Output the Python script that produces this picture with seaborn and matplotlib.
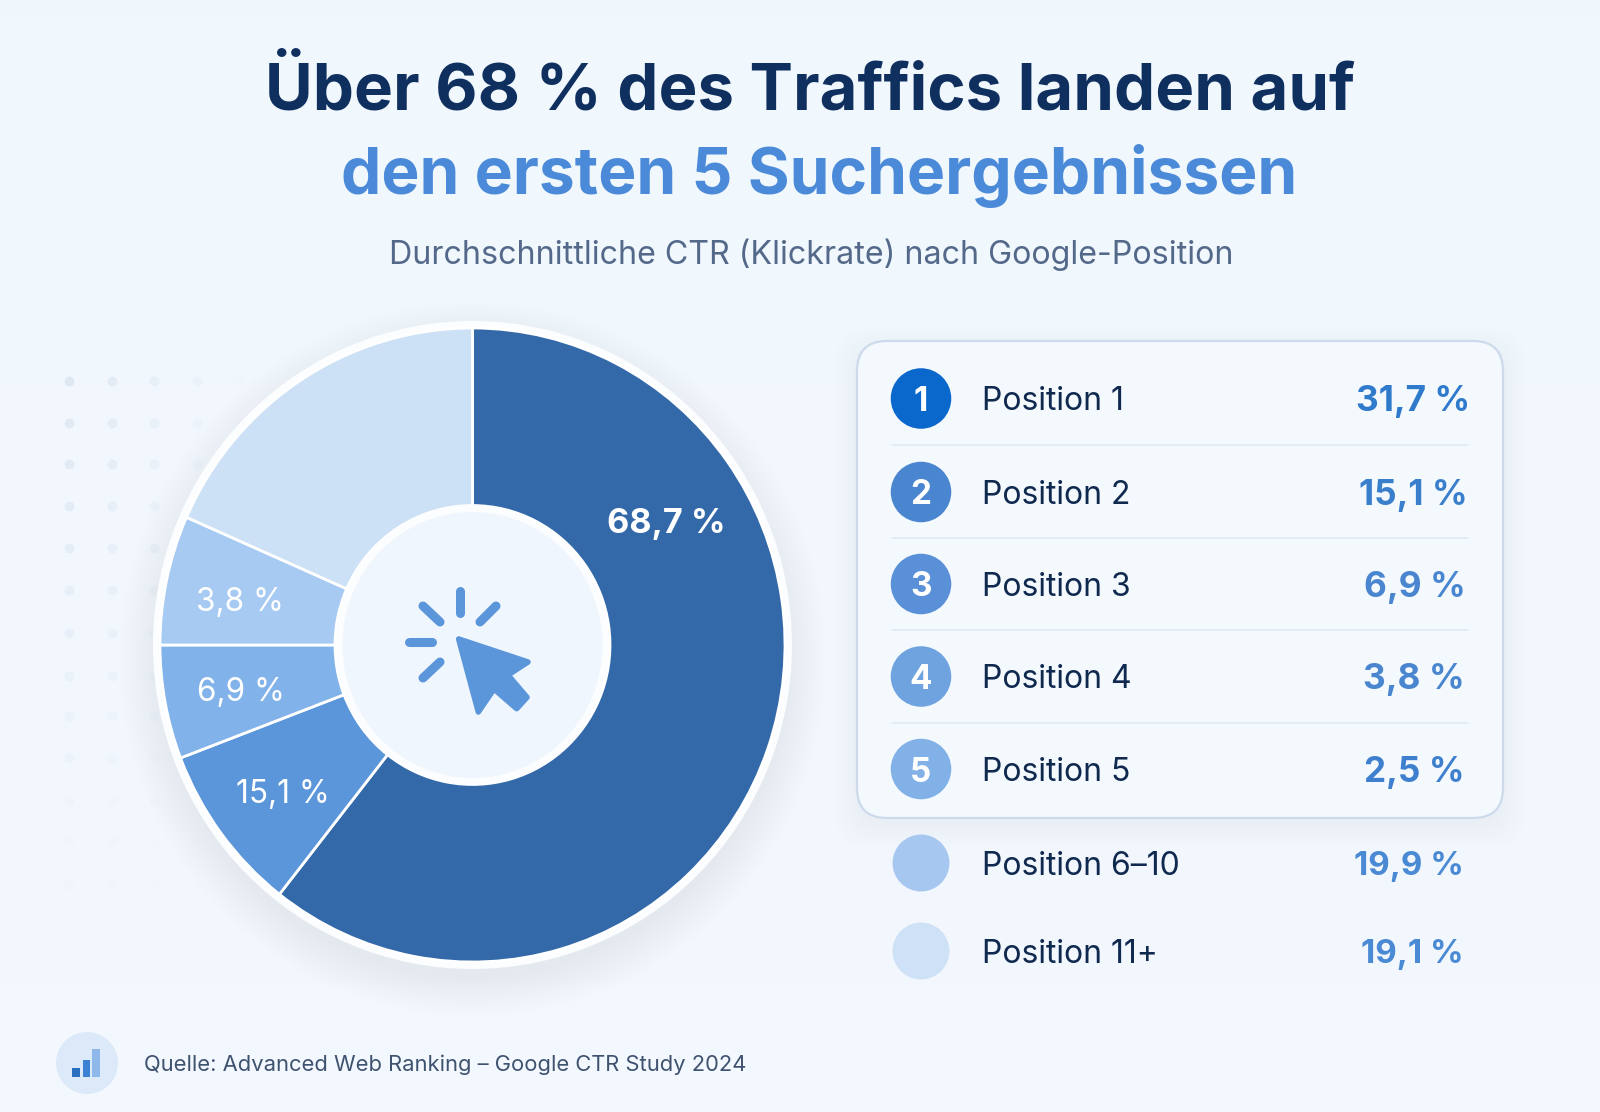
import numpy as np
import seaborn as sns
import matplotlib.pyplot as plt
from matplotlib.patches import Ellipse, FancyBboxPatch, Polygon, Rectangle

# --- data ---
# the drawn ring does not follow the printed numbers, so shares are measured from the slices
wedge_shares = [60.6, 8.6, 5.8, 6.6, 18.4]
wedge_labels = ["68,7 %", "15,1 %", "6,9 %", "3,8 %"]
wedge_colors = ["#3369A9", "#5B95DA", "#82B2EA", "#A7CAF2", "#CDE1F6"]

positions = ["Position 1", "Position 2", "Position 3", "Position 4",
             "Position 5", "Position 6–10", "Position 11+"]
values = ["31,7 %", "15,1 %", "6,9 %", "3,8 %", "2,5 %", "19,9 %", "19,1 %"]
badges = ["1", "2", "3", "4", "5", "", ""]
badge_colors = ["#0A68CC", "#4A86CF", "#5A90D8", "#6FA3E0", "#82B1E8", "#A6C8F0", "#CFE1F6"]
value_colors = ["#2F7ACB", "#3A7FCC", "#4A86D0", "#4A86D0", "#3F80CE", "#4A8AD4", "#4A8AD4"]

title_1 = "Über 68 % des Traffics landen auf"
title_2 = "den ersten 5 Suchergebnissen"
subtitle = "Durchschnittliche CTR (Klickrate) nach Google-Position"
source = "Quelle: Advanced Web Ranking – Google CTR Study 2024"

# layout in pixels of the 1600x1112 image
W, H = 1600, 1112
row_y = [398.5, 492, 584, 676.5, 769, 863, 951]
value_right = [1470, 1468, 1466, 1465, 1465, 1464, 1464]
value_size = [25.4, 25.4, 25.4, 25.4, 25.4, 23.9, 23.9]
sep_y = [445, 538, 630, 723]
label_pos = [(666, 520), (283, 791), (241, 689), (240, 599)]
cx, cy, rx, ry = 472.5, 645, 312.5, 317

sns.set_theme(style="white")
plt.rcParams["font.family"] = ["Inter", "DejaVu Sans"]

fig = plt.figure(figsize=(W / 100, H / 100), dpi=100)


def px_axes(zorder):
    a = fig.add_axes([0, 0, 1, 1], zorder=zorder)
    a.set_xlim(0, W)
    a.set_ylim(H, 0)
    a.axis("off")
    return a


# background, dots, shadows
bg = px_axes(0)
grad = np.linspace(0, 1, 200).reshape(-1, 1)
top, bottom = np.array([0.941, 0.969, 0.996]), np.array([0.953, 0.973, 0.996])
bg.imshow(top + (bottom - top) * grad[..., None], extent=[0, W, H, 0], aspect="auto", zorder=0)

dot_x = [69, 112, 154, 197, 239]
dot_y = [381, 423, 464, 506, 548, 590, 633, 676, 716, 758, 801, 841, 885]
for j, y in enumerate(dot_y):
    for i, x in enumerate(dot_x):
        a = max(0.0, 0.45 - 0.11 * i) * max(0.1, 1 - 0.085 * j)
        if a > 0:
            bg.scatter([x], [y], s=50, color="#C9D6E8", alpha=a, linewidths=0, zorder=1)

for grow in np.arange(0, 40, 3):
    bg.add_patch(Ellipse((cx, cy + 14), 2 * (rx + 2 + grow), 2 * (ry + 2 + grow),
                         color="#46689A", alpha=0.0045, lw=0, zorder=2))
bg.add_patch(Ellipse((cx, cy), 2 * (rx + 7), 2 * (ry + 7), color="#FBFDFF", lw=0, zorder=3))

# the ring
ax = fig.add_axes([(cx - rx) / W, 1 - (cy + ry) / H, 2 * rx / W, 2 * ry / H], zorder=1)
ax.pie(wedge_shares, colors=wedge_colors, startangle=90, counterclock=False, radius=1,
       wedgeprops=dict(width=0.56, edgecolor="white", linewidth=2))
ax.set_aspect("auto")
ax.set_xlim(-1, 1)
ax.set_ylim(-1, 1)
ax.patch.set_alpha(0)

ov = px_axes(2)
ov.patch.set_alpha(0)

# hole
ov.add_patch(Ellipse((cx, cy), 274, 280, color="#FBFDFF", lw=0, zorder=1))
ov.add_patch(Ellipse((cx, cy), 260, 266, color="#EFF6FD", lw=0, zorder=2))
for txt, (x, y) in zip(wedge_labels, label_pos):
    big = txt == "68,7 %"
    ov.text(x, y, txt, color="white", fontsize=24.6 if big else 22.7, ha="center", va="center_baseline",
            fontweight="bold" if big else "normal", zorder=4)

# cursor icon
icon = "#5B95DA"
rays = [((460, 591), (460, 613)), ((423, 606), (440, 622)), ((496, 606), (480, 622)),
        ((409, 642), (432, 642)), ((423, 678), (440, 662))]
for p, q in rays:
    ov.plot([p[0], q[0]], [p[1], q[1]], color=icon, lw=6.5, solid_capstyle="round", zorder=3)
arrow = np.array([[236, 237], [444, 306], [384, 345], [441, 412], [410, 446], [342, 387], [295, 456]]) / 3
arrow = arrow + [380, 560]
ov.add_patch(Polygon(arrow, closed=True, fc=icon, ec=icon, lw=4, joinstyle="round", zorder=3))

# card behind the first five rows
card = dict(boxstyle="round,pad=0,rounding_size=30")
for grow in np.arange(0, 24, 3):
    ov.add_patch(FancyBboxPatch((857 - grow, 341 - grow + 8), 646 + 2 * grow, 477 + 2 * grow,
                                fc="#46689A", ec="none", alpha=0.004, zorder=1, **card))
ov.add_patch(FancyBboxPatch((857, 341), 646, 477, fc="#F4F9FE", ec="#CDDAEB", lw=1.6, zorder=2, **card))
for y in sep_y:
    ov.plot([892, 1468], [y, y], color="#E2EAF4", lw=1.2, zorder=3)

# rows, the two rows below the card have slightly smaller badges
sns.scatterplot(x=[921] * 5, y=row_y[:5], hue=positions[:5], palette=badge_colors[:5], s=1900,
                linewidth=0, legend=False, ax=ov, zorder=4)
sns.scatterplot(x=[921] * 2, y=row_y[5:], hue=positions[5:], palette=badge_colors[5:], s=1680,
                linewidth=0, legend=False, ax=ov, zorder=4)
ov.set_xlim(0, W)
ov.set_ylim(H, 0)
ov.axis("off")
for i, y in enumerate(row_y):
    if badges[i]:
        ov.text(921, y, badges[i], color="white", fontsize=24, fontweight="bold",
                ha="center", va="center_baseline", zorder=5)
    ov.text(982, y, positions[i], color="#10294F", fontsize=23, ha="left",
            va="center_baseline", zorder=5)
    ov.text(value_right[i], y, values[i], color=value_colors[i], fontsize=value_size[i], fontweight="bold",
            ha="right", va="center_baseline", zorder=5)

# header
ov.text(810, 110, title_1, color="#0F2F5E", fontsize=47, fontweight="bold", ha="center", va="baseline")
ov.text(819, 194, title_2, color="#4A8AD8", fontsize=46.2, fontweight="bold", ha="center", va="baseline")
ov.text(811, 264, subtitle, color="#54698A", fontsize=23.2, ha="center", va="baseline")

# footer
ov.add_patch(Ellipse((87, 1063), 62, 62, color="#DCE9F8", lw=0))
for x0, w, top_y, col in [(72, 8, 1068, "#2A6FC0"), (82.5, 7, 1060, "#3C82D4"), (92, 8, 1049, "#8FB8EA")]:
    ov.add_patch(Rectangle((x0, top_y), w, 1077 - top_y, color=col, lw=0))
ov.text(144, 1071, source, color="#3F5270", fontsize=15.8, ha="left", va="baseline")

fig.savefig("out.png", dpi=100)
